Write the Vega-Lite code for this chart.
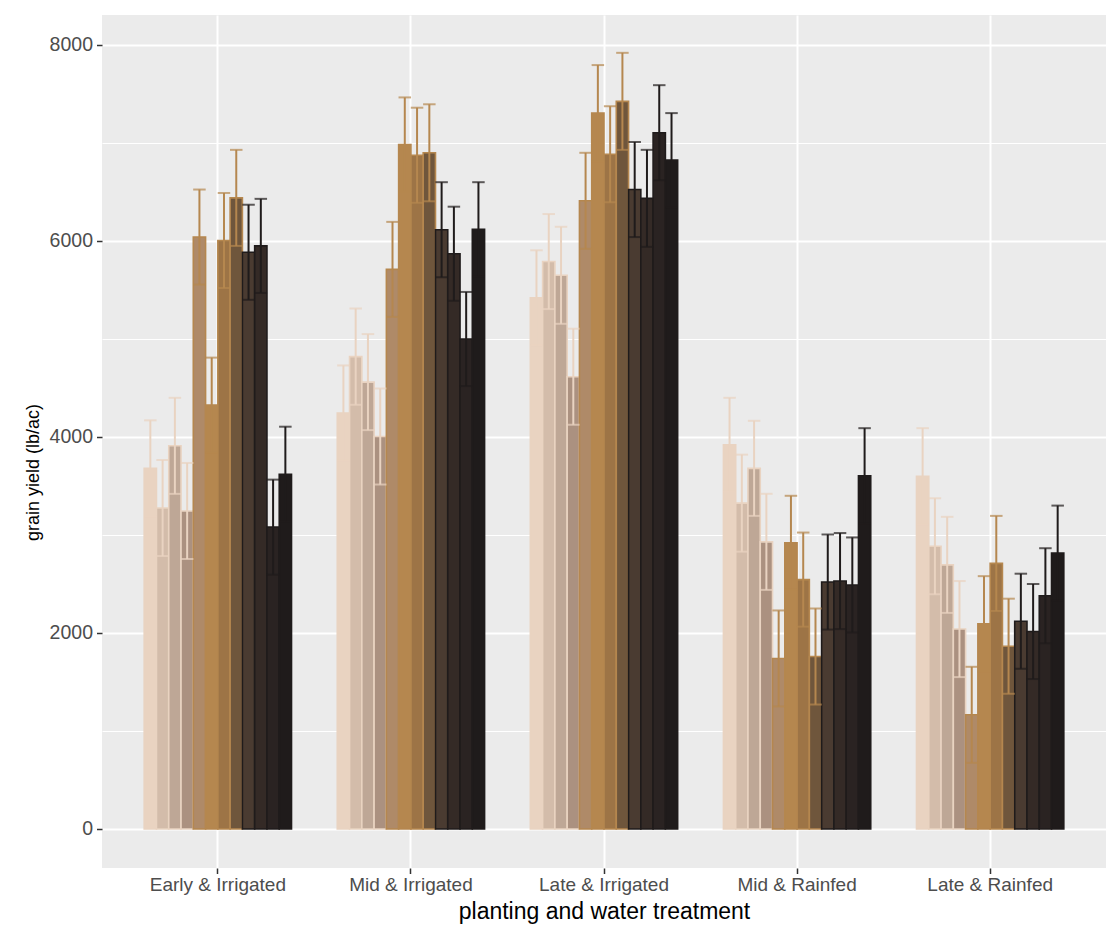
{
  "$schema": "https://vega.github.io/schema/vega-lite/v6.json",
  "autosize": {"type": "none"},
  "width": 1004,
  "height": 853,
  "padding": {"left": 102, "top": 15, "right": 6, "bottom": 59},
  "background": "white",
  "config": {
    "view": {"fill": "#EBEBEB", "stroke": null},
    "font": "Liberation Sans",
    "axis": {
      "domain": false,
      "gridColor": "white",
      "tickColor": "#333333",
      "tickWidth": 1.5,
      "tickSize": 5.5,
      "labelColor": "#4D4D4D",
      "labelFont": "Liberation Sans",
      "titleColor": "#000000",
      "titleFontWeight": "normal"
    }
  },
  "data": {
    "values": [
      {"g": "Early & Irrigated", "s": "H01", "y": 3680, "lo": 3190, "hi": 4170},
      {"g": "Early & Irrigated", "s": "H02", "y": 3275, "lo": 2785, "hi": 3765},
      {"g": "Early & Irrigated", "s": "H03", "y": 3910, "lo": 3420, "hi": 4400},
      {"g": "Early & Irrigated", "s": "H04", "y": 3245, "lo": 2755, "hi": 3735},
      {"g": "Early & Irrigated", "s": "H05", "y": 6040, "lo": 5555, "hi": 6525},
      {"g": "Early & Irrigated", "s": "H06", "y": 4325, "lo": 3840, "hi": 4810},
      {"g": "Early & Irrigated", "s": "H07", "y": 6005, "lo": 5520, "hi": 6490},
      {"g": "Early & Irrigated", "s": "H08", "y": 6440, "lo": 5950, "hi": 6930},
      {"g": "Early & Irrigated", "s": "H09", "y": 5885, "lo": 5400, "hi": 6370},
      {"g": "Early & Irrigated", "s": "H10", "y": 5950, "lo": 5470, "hi": 6430},
      {"g": "Early & Irrigated", "s": "H11", "y": 3080, "lo": 2595, "hi": 3565},
      {"g": "Early & Irrigated", "s": "H12", "y": 3620, "lo": 3135, "hi": 4105},

      {"g": "Mid & Irrigated", "s": "H01", "y": 4245, "lo": 3760, "hi": 4730},
      {"g": "Mid & Irrigated", "s": "H02", "y": 4820, "lo": 4330, "hi": 5310},
      {"g": "Mid & Irrigated", "s": "H03", "y": 4560, "lo": 4070, "hi": 5050},
      {"g": "Mid & Irrigated", "s": "H04", "y": 4005, "lo": 3515, "hi": 4495},
      {"g": "Mid & Irrigated", "s": "H05", "y": 5710, "lo": 5225, "hi": 6195},
      {"g": "Mid & Irrigated", "s": "H06", "y": 6985, "lo": 6505, "hi": 7465},
      {"g": "Mid & Irrigated", "s": "H07", "y": 6875, "lo": 6390, "hi": 7360},
      {"g": "Mid & Irrigated", "s": "H08", "y": 6900, "lo": 6405, "hi": 7395},
      {"g": "Mid & Irrigated", "s": "H09", "y": 6115, "lo": 5630, "hi": 6600},
      {"g": "Mid & Irrigated", "s": "H10", "y": 5870, "lo": 5390, "hi": 6350},
      {"g": "Mid & Irrigated", "s": "H11", "y": 5000, "lo": 4520, "hi": 5480},
      {"g": "Mid & Irrigated", "s": "H12", "y": 6120, "lo": 5640, "hi": 6600},

      {"g": "Late & Irrigated", "s": "H01", "y": 5420, "lo": 4935, "hi": 5905},
      {"g": "Late & Irrigated", "s": "H02", "y": 5790, "lo": 5305, "hi": 6275},
      {"g": "Late & Irrigated", "s": "H03", "y": 5650, "lo": 5155, "hi": 6145},
      {"g": "Late & Irrigated", "s": "H04", "y": 4615, "lo": 4125, "hi": 5105},
      {"g": "Late & Irrigated", "s": "H05", "y": 6410, "lo": 5920, "hi": 6900},
      {"g": "Late & Irrigated", "s": "H06", "y": 7305, "lo": 6815, "hi": 7795},
      {"g": "Late & Irrigated", "s": "H07", "y": 6885, "lo": 6395, "hi": 7375},
      {"g": "Late & Irrigated", "s": "H08", "y": 7425, "lo": 6930, "hi": 7920},
      {"g": "Late & Irrigated", "s": "H09", "y": 6525, "lo": 6040, "hi": 7010},
      {"g": "Late & Irrigated", "s": "H10", "y": 6435, "lo": 5940, "hi": 6930},
      {"g": "Late & Irrigated", "s": "H11", "y": 7105, "lo": 6620, "hi": 7590},
      {"g": "Late & Irrigated", "s": "H12", "y": 6825, "lo": 6345, "hi": 7305},

      {"g": "Mid & Rainfed", "s": "H01", "y": 3920, "lo": 3440, "hi": 4400},
      {"g": "Mid & Rainfed", "s": "H02", "y": 3325, "lo": 2830, "hi": 3820},
      {"g": "Mid & Rainfed", "s": "H03", "y": 3680, "lo": 3195, "hi": 4165},
      {"g": "Mid & Rainfed", "s": "H04", "y": 2930, "lo": 2440, "hi": 3420},
      {"g": "Mid & Rainfed", "s": "H05", "y": 1740, "lo": 1250, "hi": 2230},
      {"g": "Mid & Rainfed", "s": "H06", "y": 2920, "lo": 2440, "hi": 3400},
      {"g": "Mid & Rainfed", "s": "H07", "y": 2545, "lo": 2065, "hi": 3025},
      {"g": "Mid & Rainfed", "s": "H08", "y": 1760, "lo": 1270, "hi": 2250},
      {"g": "Mid & Rainfed", "s": "H09", "y": 2520, "lo": 2035, "hi": 3005},
      {"g": "Mid & Rainfed", "s": "H10", "y": 2530, "lo": 2040, "hi": 3020},
      {"g": "Mid & Rainfed", "s": "H11", "y": 2490, "lo": 2005, "hi": 2975},
      {"g": "Mid & Rainfed", "s": "H12", "y": 3605, "lo": 3120, "hi": 4090},

      {"g": "Late & Rainfed", "s": "H01", "y": 3600, "lo": 3110, "hi": 4090},
      {"g": "Late & Rainfed", "s": "H02", "y": 2885, "lo": 2395, "hi": 3375},
      {"g": "Late & Rainfed", "s": "H03", "y": 2695, "lo": 2205, "hi": 3185},
      {"g": "Late & Rainfed", "s": "H04", "y": 2040, "lo": 1550, "hi": 2530},
      {"g": "Late & Rainfed", "s": "H05", "y": 1165, "lo": 675, "hi": 1655},
      {"g": "Late & Rainfed", "s": "H06", "y": 2095, "lo": 1610, "hi": 2580},
      {"g": "Late & Rainfed", "s": "H07", "y": 2710, "lo": 2225, "hi": 3195},
      {"g": "Late & Rainfed", "s": "H08", "y": 1865, "lo": 1380, "hi": 2350},
      {"g": "Late & Rainfed", "s": "H09", "y": 2120, "lo": 1635, "hi": 2605},
      {"g": "Late & Rainfed", "s": "H10", "y": 2015, "lo": 1530, "hi": 2500},
      {"g": "Late & Rainfed", "s": "H11", "y": 2380, "lo": 1895, "hi": 2865},
      {"g": "Late & Rainfed", "s": "H12", "y": 2815, "lo": 2330, "hi": 3300}
    ]
  },
  "encoding": {
    "x": {
      "field": "g",
      "type": "nominal",
      "sort": ["Early & Irrigated", "Mid & Irrigated", "Late & Irrigated", "Mid & Rainfed", "Late & Rainfed"],
      "scale": {"paddingInner": 0.237, "paddingOuter": 0.2185},
      "axis": {
        "title": "planting and water treatment",
        "titleFontSize": 23,
        "titleY": 50,
        "titleBaseline": "alphabetic",
        "labelAngle": 0,
        "labelFontSize": 19,
        "labelPadding": 2,
        "grid": true,
        "gridWidth": 2
      }
    },
    "xOffset": {
      "field": "s",
      "type": "nominal",
      "scale": {"paddingInner": 0, "paddingOuter": 0}
    }
  },
  "layer": [
    {
      "mark": {"type": "bar", "strokeWidth": 1.6},
      "encoding": {
        "y": {
          "field": "y",
          "type": "quantitative",
          "scale": {"domain": [-398, 8306], "nice": false, "zero": false},
          "axis": {
            "values": [0, 2000, 4000, 6000, 8000],
            "format": "d",
            "title": "grain yield (lb/ac)",
            "titleFont": "Liberation Sans",
            "titleFontSize": 18,
            "titleAngle": -90,
            "titleX": -64,
            "titleY": 457,
            "titleAlign": "center",
            "titleBaseline": "alphabetic",
            "labelFontSize": 19.5,
            "labelPadding": 4,
            "grid": true,
            "gridWidth": 2
          }
        },
        "fill": {
          "field": "s",
          "type": "nominal",
          "legend": null,
          "scale": {
            "range": ["#E9D3C1", "#D3BCAA", "#BEA796", "#AB9180", "#AF8A68", "#B5874F", "#9D7446", "#6F563C", "#4A3B31", "#342A26", "#2A2322", "#1F1B1B"]
          }
        },
        "stroke": {
          "field": "s",
          "type": "nominal",
          "legend": null,
          "scale": {
            "range": ["#E9D3C1", "#E9D3C1", "#E9D3C1", "#E9D3C1", "#B5874F", "#B5874F", "#B5874F", "#B5874F", "#1F1B1B", "#1F1B1B", "#1F1B1B", "#1F1B1B"]
          }
        }
      }
    },
    {
      "mark": {"type": "rule", "strokeWidth": 2},
      "encoding": {
        "y": {
          "field": "lo",
          "type": "quantitative",
          "axis": {
            "values": [1000, 3000, 5000, 7000],
            "orient": "left",
            "grid": true,
            "gridWidth": 1,
            "labels": false,
            "ticks": false,
            "title": null
          }
        },
        "y2": {"field": "hi"},
        "stroke": {"field": "s", "type": "nominal", "legend": null}
      }
    },
    {
      "mark": {"type": "tick", "size": 12.5, "thickness": 2},
      "encoding": {
        "y": {"field": "hi", "type": "quantitative", "axis": null},
        "color": {"field": "s", "type": "nominal", "legend": null, "scale": {
            "range": ["#E9D3C1", "#E9D3C1", "#E9D3C1", "#E9D3C1", "#B5874F", "#B5874F", "#B5874F", "#B5874F", "#1F1B1B", "#1F1B1B", "#1F1B1B", "#1F1B1B"]
          }}
      }
    },
    {
      "mark": {"type": "tick", "size": 12.5, "thickness": 2},
      "encoding": {
        "y": {"field": "lo", "type": "quantitative", "axis": null},
        "color": {"field": "s", "type": "nominal", "legend": null}
      }
    }
  ],
  "resolve": {"axis": {"y": "independent"}, "scale": {"y": "shared"}}
}
